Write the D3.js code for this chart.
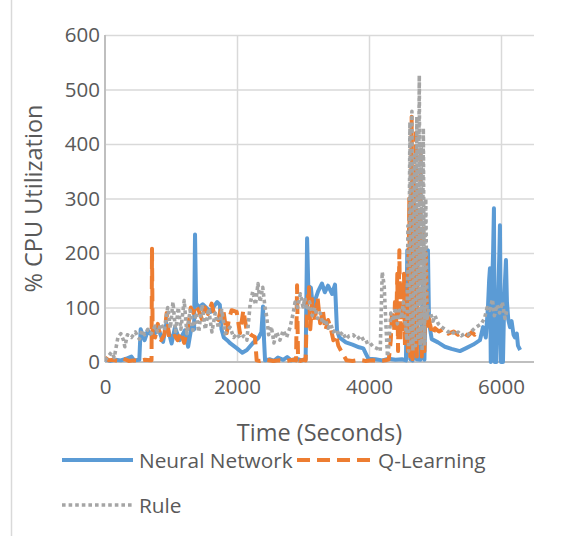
<!DOCTYPE html>
<html>
<head>
<meta charset="utf-8">
<script src="https://cdn.jsdelivr.net/npm/d3@7"></script>
<style>
  html, body { margin: 0; padding: 0; background: #ffffff; }
  svg { display: block; }
  text { font-family: "Open Sans", "Noto Sans", sans-serif; fill: #595959; }
</style>
</head>
<body>
<script>
// CPU utilisation over time for three autoscaling policies
const seriesNames = ["Neural Network", "Q-Learning", "Rule"];

const nnTime = [0,80,160,240,320,400,440,520,540,600,650,730,800,880,930,1010,1060,1130,1210,1260,1310,1350,1364,1380,1420,1480,1550,1600,1650,1700,1740,1765,1800,1850,1900,2000,2080,2150,2250,2330,2370,2394,2410,2425,2500,2560,2620,2700,2760,2820,2900,2980,3040,3062,3080,3120,3150,3180,3230,3288,3330,3380,3440,3485,3515,3550,3650,3750,3850,3914,3950,3990,4100,4200,4300,4400,4500,4560,4580,4610,4625,4660,4700,4720,4780,4820,4840,4870,4893,4910,4950,5045,5150,5250,5378,5480,5580,5681,5727,5770,5802,5820,5833,5845,5860,5880,5893,5905,5930,5950,5975,5984,6000,6030,6050,6075,6090,6110,6136,6160,6190,6212,6240,6257,6290];
const nnCpu  = [5,2,4,3,6,10,3,4,60,40,58,46,64,37,71,34,64,40,58,28,64,60,234,108,100,106,98,92,102,110,105,60,45,40,34,25,17,22,36,45,55,102,40,3,5,2,8,4,9,3,6,3,5,227,140,136,100,112,130,144,128,140,125,142,58,45,36,32,27,25,16,6,5,3,6,4,5,3,205,200,5,3,160,5,4,150,4,200,205,72,42,36,28,24,20,26,32,40,64,45,100,150,172,0,120,200,282,0,0,90,200,251,0,0,120,187,110,78,64,75,50,45,52,30,22];

const qlTime = [0,60,120,200,280,360,440,520,600,690,705,712,722,760,800,850,900,934,975,1010,1060,1100,1150,1200,1260,1300,1340,1364,1420,1470,1515,1560,1616,1660,1717,1760,1793,1843,1880,1919,1995,2045,2096,2146,2222,2272,2298,2350,2450,2550,2650,2750,2850,2895,2910,2925,2960,3000,3040,3060,3090,3110,3140,3180,3220,3260,3300,3340,3380,3420,3460,3500,3535,3600,3660,3750,3850,3950,4050,4150,4250,4300,4330,4350,4380,4393,4410,4429,4440,4460,4475,4495,4510,4530,4545,4570,4590,4610,4625,4646,4660,4680,4695,4710,4725,4745,4760,4780,4800,4820,4840,4860,4880,4900,4924,4960,5000,5060,5120,5200,5280,5350,5420,5500,5560,5600,5640];
const qlCpu  = [8,3,4,2,6,2,3,2,4,3,3,208,50,45,70,40,50,90,42,45,48,40,55,35,66,100,90,104,95,78,100,88,107,85,77,100,95,53,80,95,92,53,95,58,49,46,3,2,4,2,3,2,4,3,141,3,2,4,3,100,137,60,115,75,119,71,95,58,77,62,40,50,30,15,3,2,4,2,3,2,3,5,40,95,55,110,60,162,20,205,40,130,60,162,30,113,20,300,10,450,5,350,20,420,10,280,30,380,10,250,20,200,60,90,70,50,62,56,60,52,56,50,54,48,55,50,56];

const ruleTime = [0,60,100,140,197,240,280,300,340,400,460,520,560,600,650,700,760,800,850,900,950,990,1030,1070,1110,1150,1200,1240,1290,1330,1380,1420,1470,1520,1570,1620,1670,1720,1770,1820,1894,1950,2000,2050,2100,2150,2200,2240,2280,2318,2350,2390,2424,2450,2480,2520,2560,2600,2650,2700,2750,2800,2850,2880,2920,2960,3000,3030,3060,3100,3140,3180,3220,3260,3300,3340,3380,3420,3460,3500,3550,3600,3650,3700,3760,3820,3880,3940,4000,4060,4120,4170,4200,4230,4260,4280,4300,4330,4370,4400,4430,4460,4490,4520,4550,4575,4590,4600,4620,4635,4650,4665,4690,4705,4725,4740,4762,4775,4790,4805,4823,4840,4860,4880,4900,4930,4970,5000,5050,5100,5150,5200,5250,5300,5350,5400,5450,5500,5550,5600,5650,5700,5750,5790,5830,5870,5900,5940,5980,6020,6060,6090];
const ruleCpu  = [3,12,18,8,46,52,40,28,50,45,55,42,58,50,60,52,66,55,70,58,100,62,110,56,100,60,113,52,95,58,90,55,105,60,98,55,90,62,95,52,64,45,52,43,48,40,107,130,105,144,110,137,101,83,50,65,35,55,40,58,45,62,89,110,100,125,101,118,95,110,85,100,80,90,70,78,62,70,55,60,48,55,42,48,50,42,48,35,38,28,25,20,165,140,60,10,30,90,75,100,70,95,80,110,70,40,250,20,440,30,460,20,380,30,450,40,526,30,400,20,429,30,300,80,95,90,75,85,70,64,60,55,58,50,55,48,52,50,56,62,66,70,80,100,95,115,85,105,90,110,80,95];

const xTicks = [0, 2000, 4000, 6000];
const yTicks = [0, 100, 200, 300, 400, 500, 600];

const W = 570, H = 536;
const plot = { left: 105, right: 534, top: 35, bottom: 362 };

const svg = d3.select("body").append("svg").attr("width", W).attr("height", H);

const x = d3.scaleLinear().domain([0, 6500]).range([plot.left, plot.right]);
const y = d3.scaleLinear().domain([0, 600]).range([plot.bottom, plot.top]);

// chart frame edge
svg.append("line")
  .attr("x1", 11.5).attr("x2", 11.5).attr("y1", 0).attr("y2", H)
  .attr("stroke", "#d9d9d9").attr("stroke-width", 1.5);

// horizontal gridlines
svg.append("g")
  .attr("transform", `translate(${plot.left},0)`)
  .call(d3.axisLeft(y).tickValues(yTicks.slice(1)).tickSize(-(plot.right - plot.left)).tickFormat(""))
  .call(g => g.select(".domain").remove())
  .call(g => g.selectAll("line").attr("stroke", "#d9d9d9").attr("stroke-width", 1.5));

// vertical gridlines
svg.append("g")
  .attr("transform", `translate(0,${plot.bottom})`)
  .call(d3.axisBottom(x).tickValues(xTicks.slice(1)).tickSize(-(plot.bottom - plot.top)).tickFormat(""))
  .call(g => g.select(".domain").remove())
  .call(g => g.selectAll("line").attr("stroke", "#d9d9d9").attr("stroke-width", 1.5));

// axis lines
svg.append("line")
  .attr("x1", plot.left).attr("x2", plot.left).attr("y1", plot.top).attr("y2", plot.bottom)
  .attr("stroke", "#bfbfbf").attr("stroke-width", 2);
svg.append("line")
  .attr("x1", plot.left).attr("x2", plot.right).attr("y1", plot.bottom).attr("y2", plot.bottom)
  .attr("stroke", "#bfbfbf").attr("stroke-width", 2);

// tick labels
const yAxis = svg.append("g")
  .attr("transform", `translate(${plot.left - 5},0)`)
  .call(d3.axisLeft(y).tickValues(yTicks).tickSize(0).tickPadding(0));
yAxis.select(".domain").remove();
yAxis.selectAll("text")
  .attr("font-family", "'Open Sans', sans-serif").attr("font-size", 20.5).attr("fill", "#595959");

const xAxis = svg.append("g")
  .attr("transform", `translate(0,${plot.bottom + 17})`)
  .call(d3.axisBottom(x).tickValues(xTicks).tickSize(0).tickPadding(0).tickFormat(d3.format("d")));
xAxis.select(".domain").remove();
xAxis.selectAll("text")
  .attr("font-family", "'Open Sans', sans-serif").attr("font-size", 20.5).attr("fill", "#595959");

// axis titles
svg.append("text")
  .attr("x", (plot.left + plot.right) / 2).attr("y", 441)
  .attr("text-anchor", "middle").attr("font-size", 23.5)
  .text("Time (Seconds)");
svg.append("text")
  .attr("transform", `translate(42,${(plot.top + plot.bottom) / 2}) rotate(-90)`)
  .attr("text-anchor", "middle").attr("font-size", 23.5)
  .text("% CPU Utilization");

// series
const styles = [
  { color: "#5b9bd5", width: 4, dash: null },
  { color: "#ed7d31", width: 4, dash: "13,7" },
  { color: "#a5a5a5", width: 3.6, dash: "3.6,3" }
];
const series = [
  { t: nnTime, v: nnCpu },
  { t: qlTime, v: qlCpu },
  { t: ruleTime, v: ruleCpu }
];

svg.append("clipPath").attr("id", "plotClip")
  .append("rect").attr("x", plot.left).attr("y", 0)
  .attr("width", plot.right - plot.left + 10).attr("height", plot.bottom + 3);

series.forEach((s, k) => {
  const pts = s.t.map((t, i) => [t, s.v[i]]);
  const line = d3.line().x(d => x(d[0])).y(d => y(d[1]));
  svg.append("path")
    .attr("clip-path", "url(#plotClip)")
    .attr("d", line(pts))
    .attr("fill", "none")
    .attr("stroke", styles[k].color)
    .attr("stroke-width", styles[k].width)
    .attr("stroke-linejoin", "round")
    .attr("stroke-dasharray", styles[k].dash);
});

// legend
const legendItems = [
  { x: 62, y: 460, len: 71, textX: 139 },
  { x: 297, y: 460, len: 76, textX: 378 },
  { x: 62, y: 505, len: 70, textX: 139 }
];
legendItems.forEach((it, k) => {
  svg.append("line")
    .attr("x1", it.x).attr("x2", it.x + it.len).attr("y1", it.y).attr("y2", it.y)
    .attr("stroke", styles[k].color).attr("stroke-width", styles[k].width)
    .attr("stroke-dasharray", styles[k].dash);
  svg.append("text")
    .attr("x", it.textX).attr("y", it.y + 7.5)
    .attr("font-size", 20.8)
    .text(seriesNames[k]);
});
</script>
</body>
</html>
